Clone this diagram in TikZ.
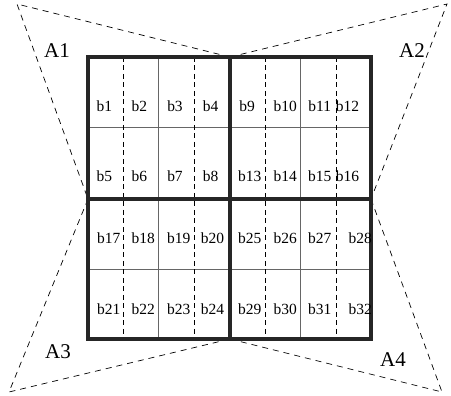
\documentclass[tikz,border=0pt]{standalone}
\usepackage{fontspec}
\setmainfont{Liberation Serif}
\begin{document}
\begin{tikzpicture}[x=1pt,y=-1pt,
  thickline/.style={line width=3.2pt,draw=black!85},
  thinline/.style={line width=0.8pt,draw=black!60},
  innerdash/.style={line width=0.8pt,draw=black,dash pattern=on 5pt off 3.5pt},
  outerdash/.style={line width=0.7pt,draw=black,dash pattern=on 6pt off 5pt},
  blabel/.style={font=\fontsize{15.5}{15.5}\selectfont,inner sep=0pt},
  alabel/.style={font=\fontsize{21}{21}\selectfont,inner sep=0pt}]
\useasboundingbox (0,0) rectangle (451,396);
% key coordinates
\coordinate (TL) at (88,57);
\coordinate (TM) at (230,57);
\coordinate (TR) at (371,57);
\coordinate (ML) at (88,199);
\coordinate (MR) at (371,199);
\coordinate (BL) at (88,339);
\coordinate (BM) at (230,339);
\coordinate (BR) at (371,339);
\coordinate (P1) at (17,4);
\coordinate (P2) at (447,4);
\coordinate (P3) at (9,392);
\coordinate (P4) at (442,392);
% outer dashed triangles
\draw[outerdash] (TM) -- (P1) -- (ML);
\draw[outerdash] (TM) -- (P2) -- (MR);
\draw[outerdash] (ML) -- (P3) -- (BM);
\draw[outerdash] (MR) -- (P4) -- (BM);
% thin solid grid lines
\foreach \x in {158.75,300.75} \draw[thinline] (\x,57) -- (\x,339);
\foreach \y in {127.5,269.5} \draw[thinline] (88,\y) -- (371,\y);
% dashed inner lines
\foreach \x in {123.5,194,265,336} \draw[innerdash] (\x,57) -- (\x,339);
% thick borders
\draw[thickline] (TL) rectangle (BR);
\draw[thickline] (TM) -- (BM);
\draw[thickline] (ML) -- (MR);
% labels A
\node[alabel] (A1) at (57,51) {A1};
\node[alabel] (A2) at (412,51) {A2};
\node[alabel] (A3) at (58,352) {A3};
\node[alabel] (A4) at (393,360) {A4};
% labels b
\node[blabel] (b1) at (104.3,105.7) {b1};
\node[blabel] (b2) at (139.3,105.7) {b2};
\node[blabel] (b3) at (175,105.7) {b3};
\node[blabel] (b4) at (210.7,105.7) {b4};
\node[blabel] (b9) at (247,105.7) {b9};
\node[blabel] (b10) at (285.3,105.7) {b10};
\node[blabel] (b11) at (319.7,105.7) {b11};
\node[blabel] (b12) at (347.5,105.7) {b12};
\node[blabel] (b5) at (104.3,175.7) {b5};
\node[blabel] (b6) at (139.3,175.7) {b6};
\node[blabel] (b7) at (175,175.7) {b7};
\node[blabel] (b8) at (210.7,175.7) {b8};
\node[blabel] (b13) at (249.7,175.7) {b13};
\node[blabel] (b14) at (285.3,175.7) {b14};
\node[blabel] (b15) at (319.7,175.7) {b15};
\node[blabel] (b16) at (347.5,175.7) {b16};
\node[blabel] (b17) at (108.8,238.3) {b17};
\node[blabel] (b18) at (143.3,238.3) {b18};
\node[blabel] (b19) at (178.8,238.3) {b19};
\node[blabel] (b20) at (212.5,238.3) {b20};
\node[blabel] (b25) at (249.7,238.3) {b25};
\node[blabel] (b26) at (285.3,238.3) {b26};
\node[blabel] (b27) at (319.7,238.3) {b27};
\node[blabel] (b28) at (360.3,238.3) {b28};
\node[blabel] (b21) at (108.8,309.3) {b21};
\node[blabel] (b22) at (143.3,309.3) {b22};
\node[blabel] (b23) at (178.8,309.3) {b23};
\node[blabel] (b24) at (212.5,309.3) {b24};
\node[blabel] (b29) at (249.7,309.3) {b29};
\node[blabel] (b30) at (285.3,309.3) {b30};
\node[blabel] (b31) at (319.7,309.3) {b31};
\node[blabel] (b32) at (360.3,309.3) {b32};
\end{tikzpicture}
\end{document}
